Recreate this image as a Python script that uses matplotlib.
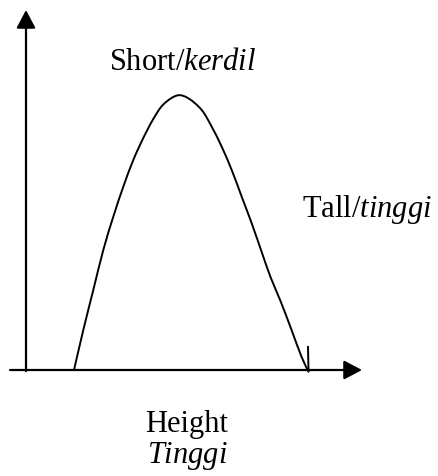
import matplotlib
matplotlib.use("Agg")
import matplotlib.pyplot as plt
from matplotlib.path import Path
from matplotlib.patches import PathPatch
import numpy as np

plt.rcParams['font.family'] = ['Liberation Serif', 'DejaVu Serif']
plt.rcParams['mathtext.fontset'] = 'custom'
plt.rcParams['mathtext.rm'] = 'Liberation Serif'
plt.rcParams['mathtext.it'] = 'Liberation Serif:italic'

# Curve (pixel-space coordinates, y downwards)
curve_x = [74, 83.3, 93.3, 103.3, 113.3, 123.3, 133.3, 143.3, 153.3, 163.3, 177,
           188.3, 201.7, 211.7, 221.7, 231.7, 241.7, 251.7, 261.7, 270.5, 280.5, 291.2,
           301.5, 308.5]
curve_y = [370, 330, 290, 250, 216.7, 186.7, 160, 138, 119, 104.5, 95.5,
           98.3, 110, 126.7, 146.7, 170, 196.7, 223.3, 252, 277, 301, 329,
           356.7, 371.5]
# little hand-drawn hook at the right foot of the curve
hook_x = [308.5, 308.0]
hook_y = [371.5, 346.7]

label_top = "Short/$\\mathit{kerdil}$"
label_right = "Tall/$\\mathit{tinggi}$"
xlabel_en = "Height"
xlabel_ms = "$\\mathit{Tinggi}$"

fig = plt.figure(figsize=(4.38, 4.76), dpi=100)
ax = fig.add_axes([0, 0, 1, 1])
ax.set_xlim(0, 438)
ax.set_ylim(476, 0)
ax.axis('off')

arrow = dict(arrowstyle='-|>,head_length=1.1,head_width=0.58', lw=1.6, color='black',
             shrinkA=0, shrinkB=0)
ax.annotate('', xy=(26, 10), xytext=(26, 371), arrowprops=arrow)
ax.annotate('', xy=(362, 370), xytext=(10, 370), arrowprops=arrow)

# smooth curve through the traced points (Catmull-Rom rendered as Bezier segments)
P = np.column_stack([curve_x, curve_y]).astype(float)
ext = np.vstack([P[0], P, P[-1]])
verts = [tuple(P[0])]
codes = [Path.MOVETO]
for i in range(1, len(ext) - 2):
    p0, p1, p2, p3 = ext[i - 1], ext[i], ext[i + 1], ext[i + 2]
    c1 = p1 + (p2 - p0) / 6.0
    c2 = p2 - (p3 - p1) / 6.0
    verts += [tuple(c1), tuple(c2), tuple(p2)]
    codes += [Path.CURVE4] * 3
ax.add_patch(PathPatch(Path(verts, codes), facecolor='none', edgecolor='black', lw=1.4,
                       capstyle='round', joinstyle='round'))
ax.plot(hook_x, hook_y, color='black', lw=1.4, solid_capstyle='round')

fs = 22
ax.text(109, 70, label_top, fontsize=fs, ha='left', va='baseline')
ax.text(302, 217, label_right, fontsize=fs, ha='left', va='baseline')
ax.text(145, 432, xlabel_en, fontsize=fs, ha='left', va='baseline')
ax.text(147, 463, xlabel_ms, fontsize=fs, ha='left', va='baseline')

fig.savefig("out.png", dpi=100)
